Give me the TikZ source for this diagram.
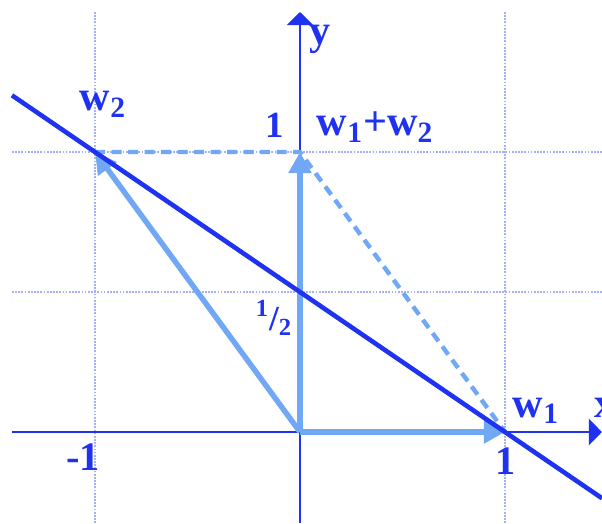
\documentclass[tikz,border=0pt]{standalone}
\usepackage{fontspec}
\setmainfont{Liberation Serif}
\usetikzlibrary{arrows.meta}
\definecolor{lineblue}{RGB}{30,50,240}
\definecolor{vecblue}{RGB}{112,168,246}
\definecolor{gridblue}{RGB}{165,175,250}
\begin{document}
\begin{tikzpicture}[x=4.1cm, y=5.6cm,
  lbl/.style={text=lineblue, font=\fontsize{24}{26}\selectfont\bfseries},
  num/.style={text=lineblue, font=\fontsize{23}{25}\selectfont\bfseries},
  gridline/.style={gridblue, line width=0.7pt, dash pattern=on 1pt off 0.8pt},
  axis/.style={lineblue, line width=0.8pt, -{Triangle[length=7.5pt,width=15pt]}},
  vec/.style={vecblue, line width=3.1pt, -{Triangle[length=12pt,width=12.5pt]}},
  dashvec/.style={vecblue, line width=2.5pt, dash pattern=on 5.7pt off 3.7pt}]
  \useasboundingbox (-1.4634,-0.325) rectangle (1.4732,1.5429);

  % Grid
  \foreach \x in {-1,1} {
    \draw[gridline] (\x,-0.325) -- (\x,1.504);
  }
  \foreach \y in {0.5,1} {
    \draw[gridline] (-1.405,\y) -- (1.4732,\y);
  }

  % Axes
  \coordinate (xleft) at (-1.405,0);
  \coordinate (xright) at (1.473,0);
  \coordinate (ybottom) at (0,-0.325);
  \coordinate (ytop) at (0,1.5);
  \draw[axis] (xleft) -- (xright);
  \draw[axis] (ybottom) -- (ytop);

  % Points
  \coordinate (O) at (0,0);
  \coordinate (W1) at (1,0);
  \coordinate (W2) at (-1,1);
  \coordinate (S) at (0,1);

  % Parallelogram sides
  \draw[dashvec] (W2) -- (S) -- (W1);

  % Vectors
  \draw[vec] (O) -- (W1);
  \draw[vec] (O) -- (S);
  \draw[vec] (O) -- (W2);

  % Separating line
  \coordinate (lstart) at (-1.405,1.2025);
  \coordinate (lend) at (1.4732,-0.2366);
  \draw[lineblue, line width=2.6pt] (lstart) -- (lend);

  % Labels
  \node[lbl] (w2lbl) at (-0.961,1.171) {w\textsubscript{2}};
  \node[lbl] (sumlbl) at (0.366,1.089) {w\textsubscript{1}+w\textsubscript{2}};
  \node[lbl] (w1lbl) at (1.151,0.075) {w\textsubscript{1}};
  \node[lbl, anchor=west] (xlbl) at (1.407,0.086) {x};
  \node[lbl] (ylbl) at (0.098,1.404) {y};
  \node[num, font=\fontsize{21}{23}\selectfont\bfseries] (oney) at (-0.122,1.096) {1};
  \node[num, font=\fontsize{20}{22}\selectfont\bfseries] (half) at (-0.127,0.407) {\textsuperscript{1}/\textsubscript{2}};
  \node[num] (minusone) at (-1.059,-0.089) {-1};
  \node[num] (onex) at (1.005,-0.104) {1};
\end{tikzpicture}
\end{document}
